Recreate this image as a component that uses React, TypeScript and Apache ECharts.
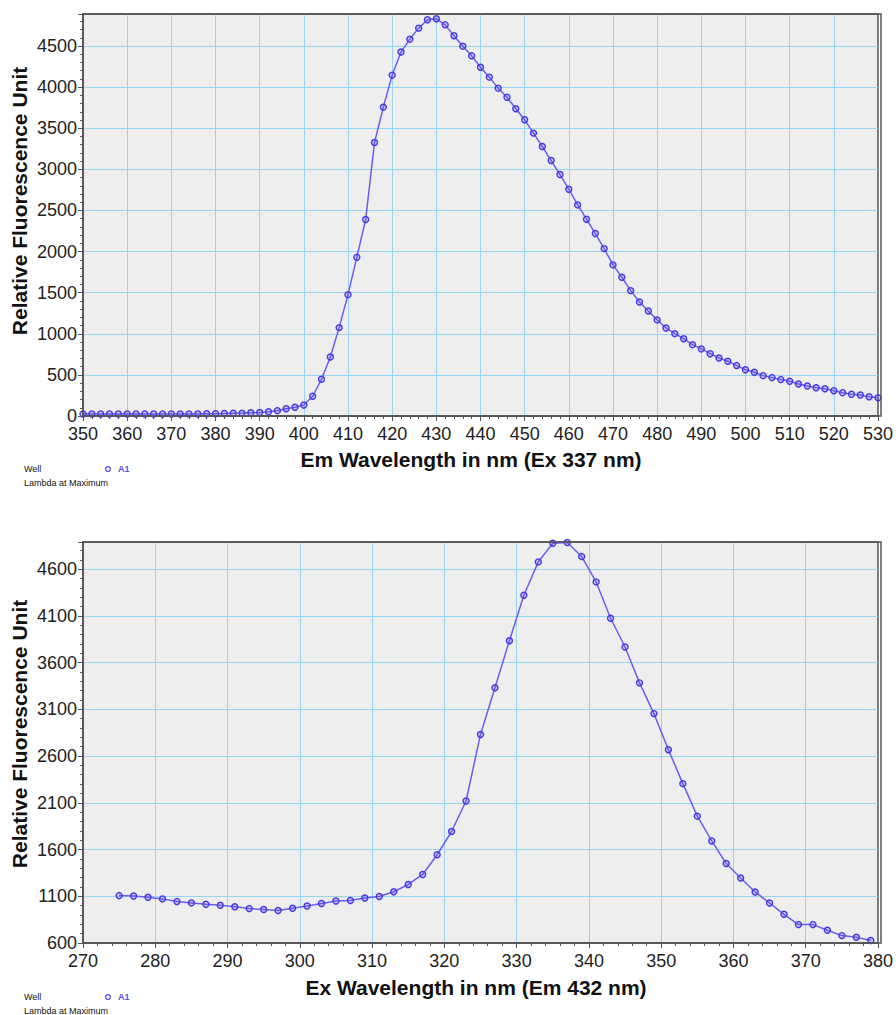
import React, { useEffect, useRef } from "react";
import * as echarts from "echarts";

// Emission scan (Ex 337 nm)
const emWavelengths = [
  350, 352, 354, 356, 358, 360, 362, 364, 366, 368, 370, 372, 374, 376, 378, 380,
  382, 384, 386, 388, 390, 392, 394, 396, 398, 400, 402, 404, 406, 408, 410, 412,
  414, 416, 418, 420, 422, 424, 426, 428, 430, 432, 434, 436, 438, 440, 442, 444,
  446, 448, 450, 452, 454, 456, 458, 460, 462, 464, 466, 468, 470, 472, 474, 476,
  478, 480, 482, 484, 486, 488, 490, 492, 494, 496, 498, 500, 502, 504, 506, 508,
  510, 512, 514, 516, 518, 520, 522, 524, 526, 528, 530,
];
const emValues = [
  25, 25, 25, 25, 25, 25, 25, 25, 25, 25, 25, 25, 25, 25, 27, 28,
  30, 33, 35, 40, 42, 52, 65, 89, 106, 134, 240, 447, 718, 1075, 1476, 1930,
  2390, 3326, 3757, 4146, 4427, 4584, 4718, 4820, 4832, 4758, 4625, 4499, 4381, 4243, 4122, 3988,
  3878, 3737, 3603, 3441, 3278, 3107, 2937, 2759, 2568, 2394, 2219, 2036, 1838, 1688, 1525, 1387,
  1277, 1169, 1071, 1002, 940, 868, 816, 758, 706, 666, 613, 563, 532, 491, 467, 443,
  422, 389, 365, 344, 332, 308, 284, 265, 255, 234, 222,
];

// Excitation scan (Em 432 nm)
const exWavelengths = [
  275, 277, 279, 281, 283, 285, 287, 289, 291, 293, 295, 297, 299, 301, 303, 305,
  307, 309, 311, 313, 315, 317, 319, 321, 323, 325, 327, 329, 331, 333, 335, 337,
  339, 341, 343, 345, 347, 349, 351, 353, 355, 357, 359, 361, 363, 365, 367, 369,
  371, 373, 375, 377, 379,
];
const exValues = [
  1107, 1102, 1089, 1072, 1043, 1029, 1014, 1004, 987, 968, 958, 947, 972, 995, 1023, 1049,
  1055, 1081, 1098, 1148, 1226, 1333, 1544, 1793, 2119, 2831, 3330, 3834, 4321, 4677, 4877, 4884,
  4734, 4463, 4074, 3767, 3383, 3054, 2668, 2305, 1957, 1692, 1450, 1295, 1146, 1028, 907, 797,
  797, 736, 679, 661, 626,
];

const emAxis = { min: 350, max: 530, interval: 10 };
const emYAxis = { min: 0, max: 4890, interval: 500 };
const exAxis = { min: 270, max: 380, interval: 10 };
const exYAxis = { min: 600, max: 4890, interval: 500 };

const yTitle = "Relative Fluorescence Unit";
const emTitle = "Em Wavelength in nm (Ex 337 nm)";
const exTitle = "Ex Wavelength in nm (Em 432 nm)";
const legendWell = "Well";
const legendLambda = "Lambda at Maximum";
const legendSeries = "A1";

const FONT = '"Liberation Sans", Arial, Helvetica, sans-serif';
const AXIS_COLOR = "#555555";
const GRID_LINE = "#98d5f2";
const LINE_COLOR = "#6a5ef2";
const MARK_COLOR = "#4538e6";

const plainNum = (v: number) => String(v);

function xAxisCfg(gridIndex: number, a: { min: number; max: number; interval: number }) {
  return {
    gridIndex,
    type: "value",
    min: a.min,
    max: a.max,
    interval: a.interval,
    axisLine: { show: true, onZero: false, lineStyle: { color: AXIS_COLOR, width: 1.5 } },
    axisTick: { show: true, inside: false, length: 5, lineStyle: { color: AXIS_COLOR, width: 1 } },
    minorTick: { show: true, splitNumber: 5, length: 3, lineStyle: { color: AXIS_COLOR, width: 1 } },
    splitLine: { show: true, showMinLine: false, showMaxLine: false, lineStyle: { color: GRID_LINE, width: 1 } },
    axisLabel: { fontSize: 18, color: "#222", margin: 9, fontFamily: FONT, formatter: plainNum },
  };
}

function yAxisCfg(gridIndex: number, a: { min: number; max: number; interval: number }) {
  return {
    gridIndex,
    type: "value",
    min: a.min,
    max: a.max,
    interval: a.interval,
    axisLine: { show: true, onZero: false, lineStyle: { color: AXIS_COLOR, width: 1.5 } },
    axisTick: { show: true, inside: false, length: 5, lineStyle: { color: AXIS_COLOR, width: 1 } },
    minorTick: { show: true, splitNumber: 5, length: 3, lineStyle: { color: AXIS_COLOR, width: 1 } },
    splitLine: { show: true, showMinLine: false, showMaxLine: false, lineStyle: { color: GRID_LINE, width: 1 } },
    axisLabel: {
      fontSize: 18,
      lineHeight: 14,
      color: "#222",
      margin: 6,
      fontFamily: FONT,
      showMaxLabel: false,
      formatter: plainNum,
    },
  };
}

function seriesCfg(idx: number, xs: number[], ys: number[]) {
  return {
    type: "line",
    xAxisIndex: idx,
    yAxisIndex: idx,
    data: xs.map((x, i) => [x, ys[i]]),
    symbol: "circle",
    symbolSize: 6,
    showAllSymbol: true,
    z: 5,
    lineStyle: { color: LINE_COLOR, width: 1.5 },
    itemStyle: { color: "rgba(90,80,230,0.25)", borderColor: MARK_COLOR, borderWidth: 1.4 },
  };
}

function frameGraphic(left: number, top: number, width: number, height: number) {
  return {
    type: "rect",
    z: 100,
    silent: true,
    shape: { x: left, y: top, width, height },
    style: { fill: "none", stroke: AXIS_COLOR, lineWidth: 1.5 },
  };
}

function legendGraphics(yWell: number) {
  return [
    {
      type: "text",
      x: 24,
      y: yWell,
      style: { text: legendWell, fontSize: 9, fontFamily: FONT, fill: "#111", align: "left", verticalAlign: "middle" },
    },
    {
      type: "circle",
      shape: { cx: 108, cy: yWell, r: 2.4 },
      style: { fill: "none", stroke: "#5b4ff0", lineWidth: 1.3 },
    },
    {
      type: "text",
      x: 118,
      y: yWell,
      style: { text: legendSeries, fontSize: 9, fontWeight: "bold", fontFamily: FONT, fill: "#5b4ff0", align: "left", verticalAlign: "middle" },
    },
    {
      type: "text",
      x: 24,
      y: yWell + 14,
      style: { text: legendLambda, fontSize: 9, fontFamily: FONT, fill: "#111", align: "left", verticalAlign: "middle" },
    },
  ];
}

function titleGraphics(yTitleCy: number, xTitleCx: number, xTitleCy: number, xText: string) {
  return [
    {
      type: "text",
      x: 19,
      y: yTitleCy,
      rotation: Math.PI / 2,
      style: { text: yTitle, fontSize: 21, fontWeight: "bold", fontFamily: FONT, fill: "#111", align: "center", verticalAlign: "middle" },
    },
    {
      type: "text",
      x: xTitleCx,
      y: xTitleCy,
      style: { text: xText, fontSize: 21, fontWeight: "bold", fontFamily: FONT, fill: "#111", align: "center", verticalAlign: "middle" },
    },
  ];
}

export default function App() {
  const ref = useRef<HTMLDivElement>(null);
  useEffect(() => {
    if (!ref.current) return;
    const chart = echarts.init(ref.current, undefined, { renderer: "svg" });
    chart.setOption({
      animation: false,
      backgroundColor: "#ffffff",
      grid: [
        { left: 83, top: 14, width: 798, height: 402, show: true, backgroundColor: "#eeeeee", borderColor: AXIS_COLOR, borderWidth: 1.5 },
        { left: 83, top: 542, width: 798, height: 401, show: true, backgroundColor: "#eeeeee", borderColor: AXIS_COLOR, borderWidth: 1.5 },
      ],
      xAxis: [xAxisCfg(0, emAxis), xAxisCfg(1, exAxis)],
      yAxis: [yAxisCfg(0, emYAxis), yAxisCfg(1, exYAxis)],
      series: [seriesCfg(0, emWavelengths, emValues), seriesCfg(1, exWavelengths, exValues)],
      graphic: [
        frameGraphic(83, 14, 798, 402),
        frameGraphic(83, 542, 798, 401),
        ...titleGraphics(201, 471, 459, emTitle),
        ...titleGraphics(734, 476, 987, exTitle),
        ...legendGraphics(469),
        ...legendGraphics(997),
      ],
    });
    return () => chart.dispose();
  }, []);
  return (
    <div
      ref={ref}
      style={{ position: "fixed", left: 0, top: 0, width: 896, height: 1015, background: "#fff" }}
    />
  );
}
